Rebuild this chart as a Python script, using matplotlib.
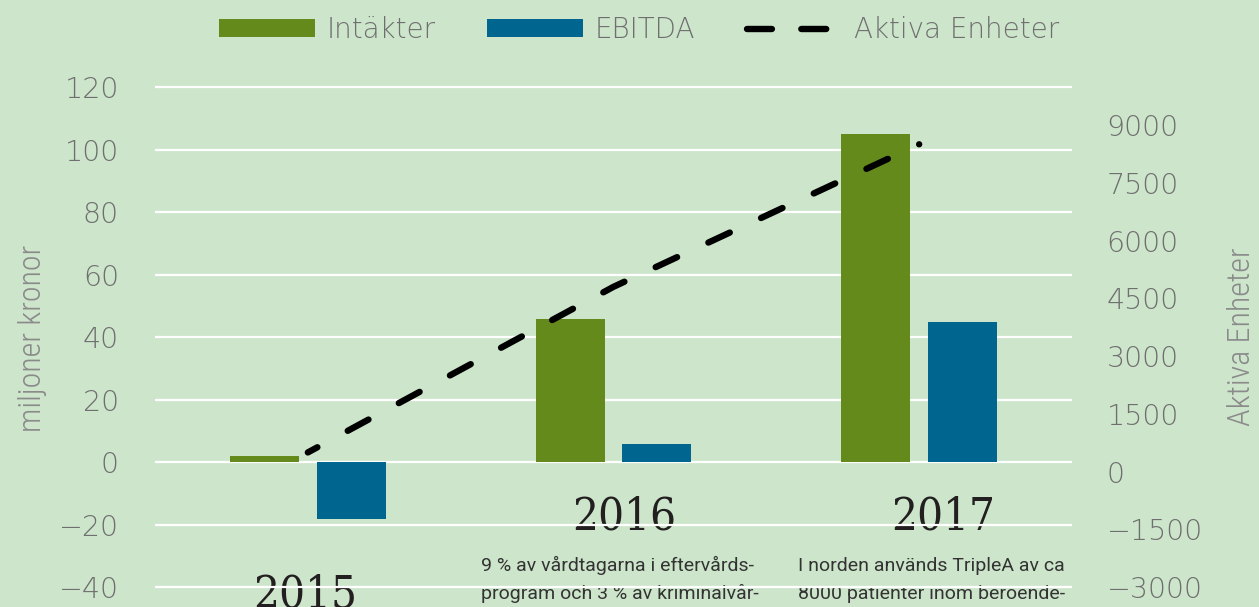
import numpy as np
import matplotlib
matplotlib.use("Agg")
import matplotlib.pyplot as plt
from matplotlib import font_manager as fm
from matplotlib.patches import Patch
from matplotlib.lines import Line2D

# ---------------- data ----------------
years = ["2015", "2016", "2017"]
intakter = [2, 46, 105]          # miljoner kronor
ebitda = [-18, 6, 45]            # miljoner kronor
aktiva = [500, 4800, 8500]       # Aktiva Enheter
left_ticks = [-40, -20, 0, 20, 40, 60, 80, 100, 120]
right_ticks = [-3000, -1500, 0, 1500, 3000, 4500, 6000, 7500, 9000]
notes_2016 = ["9 % av vårdtagarna i eftervårds-", "program och 3 % av kriminalvår-"]
notes_2017 = ["I norden används TripleA av ca", "8000 patienter inom beroende-"]

# ---------------- style ----------------
BG = "#cde6cb"
GREEN = "#658a1c"
BLUE = "#00658f"
TICK_GREY = "#6f6f6f"
LABEL_GREY = "#8a8a8a"

W, H = 1259, 607


def wt(f):
    w = f.weight
    if isinstance(w, str):
        w = fm.weight_dict.get(w, 400)
    return int(w)


def is_cond(f):
    return (str(f.stretch) in ("condensed", "semi-condensed", "extra-condensed")
            or "Condensed" in f.name or "Narrow" in f.name
            or "Condensed" in f.fname or "Narrow" in f.fname)


def pick(preds, fallback="DejaVu Sans"):
    for pred in preds:
        for f in fm.fontManager.ttflist:
            try:
                if f.style == "normal" and pred(f):
                    return fm.FontProperties(fname=f.fname)
            except Exception:
                pass
    return fm.FontProperties(family=fallback)


fp_thin = pick([
    lambda f: f.name == "DejaVu Sans" and wt(f) <= 250 and not is_cond(f),
    lambda f: f.name.startswith("Open Sans") and wt(f) <= 300 and not is_cond(f),
    lambda f: f.name.startswith("Lato") and wt(f) <= 300,
    lambda f: f.name.startswith("Roboto") and wt(f) <= 300 and not is_cond(f),
])
fp_thin_cond = pick([
    lambda f: "Roboto" in f.name and is_cond(f) and wt(f) <= 300,
    lambda f: "Open Sans" in f.name and is_cond(f) and wt(f) <= 300,
    lambda f: "DejaVu Sans" in f.name and is_cond(f) and wt(f) <= 400 and "Mono" not in f.name,
    lambda f: "Liberation Sans Narrow" in f.name and wt(f) <= 400,
])
fp_text = pick([
    lambda f: f.name == "Roboto" and wt(f) == 400 and not is_cond(f),
    lambda f: f.name == "Lato" and wt(f) == 400,
    lambda f: "Liberation Sans Narrow" in f.name and wt(f) <= 400,
])
fp_serif = pick([
    lambda f: "DejaVu Serif" in f.name and is_cond(f) and wt(f) == 400,
    lambda f: f.name == "DejaVu Serif" and wt(f) == 400,
    lambda f: f.name == "Liberation Serif" and wt(f) == 400,
], fallback="serif")
serif_is_cond = "Condensed" in (fp_serif.get_file() or "")


def sized(fp, size):
    p = fp.copy()
    p.set_size(size)
    return p


def fx(px):
    return px / W


def fy(py):
    return 1 - py / H


fig = plt.figure(figsize=(W / 100, H / 100), dpi=100, facecolor=BG)

# axes geometry (pixels)
ax_left, ax_right, ax_top, ax_bot = 155, 1072, 70, 607
ax = fig.add_axes([fx(ax_left), fy(ax_bot), (ax_right - ax_left) / W, (ax_bot - ax_top) / H])
ax.set_facecolor(BG)

# left scale: 0 at 462.3 px, 3.125 px per unit
l_zero, l_ppu = 462.3, 3.125
ax.set_ylim(-(ax_bot - l_zero) / l_ppu, (l_zero - ax_top) / l_ppu)
ax.set_xlim(-0.5, 2.5)

x = np.arange(len(years))
bw = 0.2255
off = 0.142
ax.bar(x - off, intakter, bw, color=GREEN, zorder=2, label="Intäkter")
ax.bar(x + off, ebitda, bw, color=BLUE, zorder=2, label="EBITDA")

ax.set_yticks(left_ticks)
ax.set_xticks([])
ax.yaxis.grid(True, color="white", linewidth=1.6, zorder=1)
ax.set_axisbelow(True)
ax.tick_params(axis="y", length=0, pad=26, colors=TICK_GREY)
for lbl in ax.get_yticklabels():
    lbl.set_fontproperties(sized(fp_thin, 20.5))
for s in ax.spines.values():
    s.set_visible(False)

# right axis
ax2 = ax.twinx()
r_zero, r_ppu = 471.7, 0.03852
ax2.set_ylim(-(ax_bot - r_zero) / r_ppu, (r_zero - ax_top) / r_ppu)
ax2.plot(x, aktiva, color="black", linewidth=4.6, linestyle=(2.0, (3.7, 5.4)),
         dash_capstyle="round", zorder=3, label="Aktiva Enheter")
ax2.set_yticks(right_ticks)
ax2.tick_params(axis="y", length=0, pad=25, colors=TICK_GREY)
for lbl in ax2.get_yticklabels():
    lbl.set_fontproperties(sized(fp_thin, 20.5))
for s in ax2.spines.values():
    s.set_visible(False)
ax2.patch.set_visible(False)

# axis titles
fig.text(fx(33), fy(338), "miljoner kronor", rotation=90, ha="center", va="center",
         color=LABEL_GREY, fontproperties=sized(fp_thin_cond, 23))
fig.text(fx(1241), fy(337), "Aktiva Enheter", rotation=90, ha="center", va="center",
         color=LABEL_GREY, fontproperties=sized(fp_thin_cond, 23))

# year labels (under gridlines)
year_size = 32.7 if serif_is_cond else (29.5 if "DejaVu" in (fp_serif.get_file() or "") else 37)
year_pos = {"2015": (305, 608), "2016": (624, 529), "2017": (943, 529)}
for yr in years:
    px, py = year_pos[yr]
    ax.text(fx(px), fy(py), yr, transform=fig.transFigure, ha="center", va="baseline",
            color="#231f20", fontproperties=sized(fp_serif, year_size), zorder=0.3)

# notes
for lines, px in ((notes_2016, 481), (notes_2017, 798)):
    for i, line in enumerate(lines):
        ax.text(fx(px), fy(571 + 28 * i), line, transform=fig.transFigure, ha="left",
                va="baseline", color="#333333", fontproperties=sized(fp_text, 14.0), zorder=0.3)

# legend
fs_leg = 20
fs_px = fs_leg * 100 / 72
handles = [Patch(facecolor=GREEN, edgecolor="none"),
           Patch(facecolor=BLUE, edgecolor="none"),
           Line2D([], [], color="black", linewidth=4.6, linestyle=(0, (3.9, 4.6)),
                  dash_capstyle="round")]
leg = fig.legend(handles, ["Intäkter", "EBITDA", "Aktiva Enheter"], loc="center",
                 bbox_to_anchor=(fx(639), fy(30)), ncol=3, frameon=False,
                 prop=sized(fp_thin, fs_leg), handlelength=96 / fs_px, handleheight=17 / fs_px,
                 handletextpad=11 / fs_px, columnspacing=52 / fs_px, borderaxespad=0, borderpad=0)
for t in leg.get_texts():
    t.set_color(TICK_GREY)

fig.savefig("out.png", dpi=100, facecolor=BG)
